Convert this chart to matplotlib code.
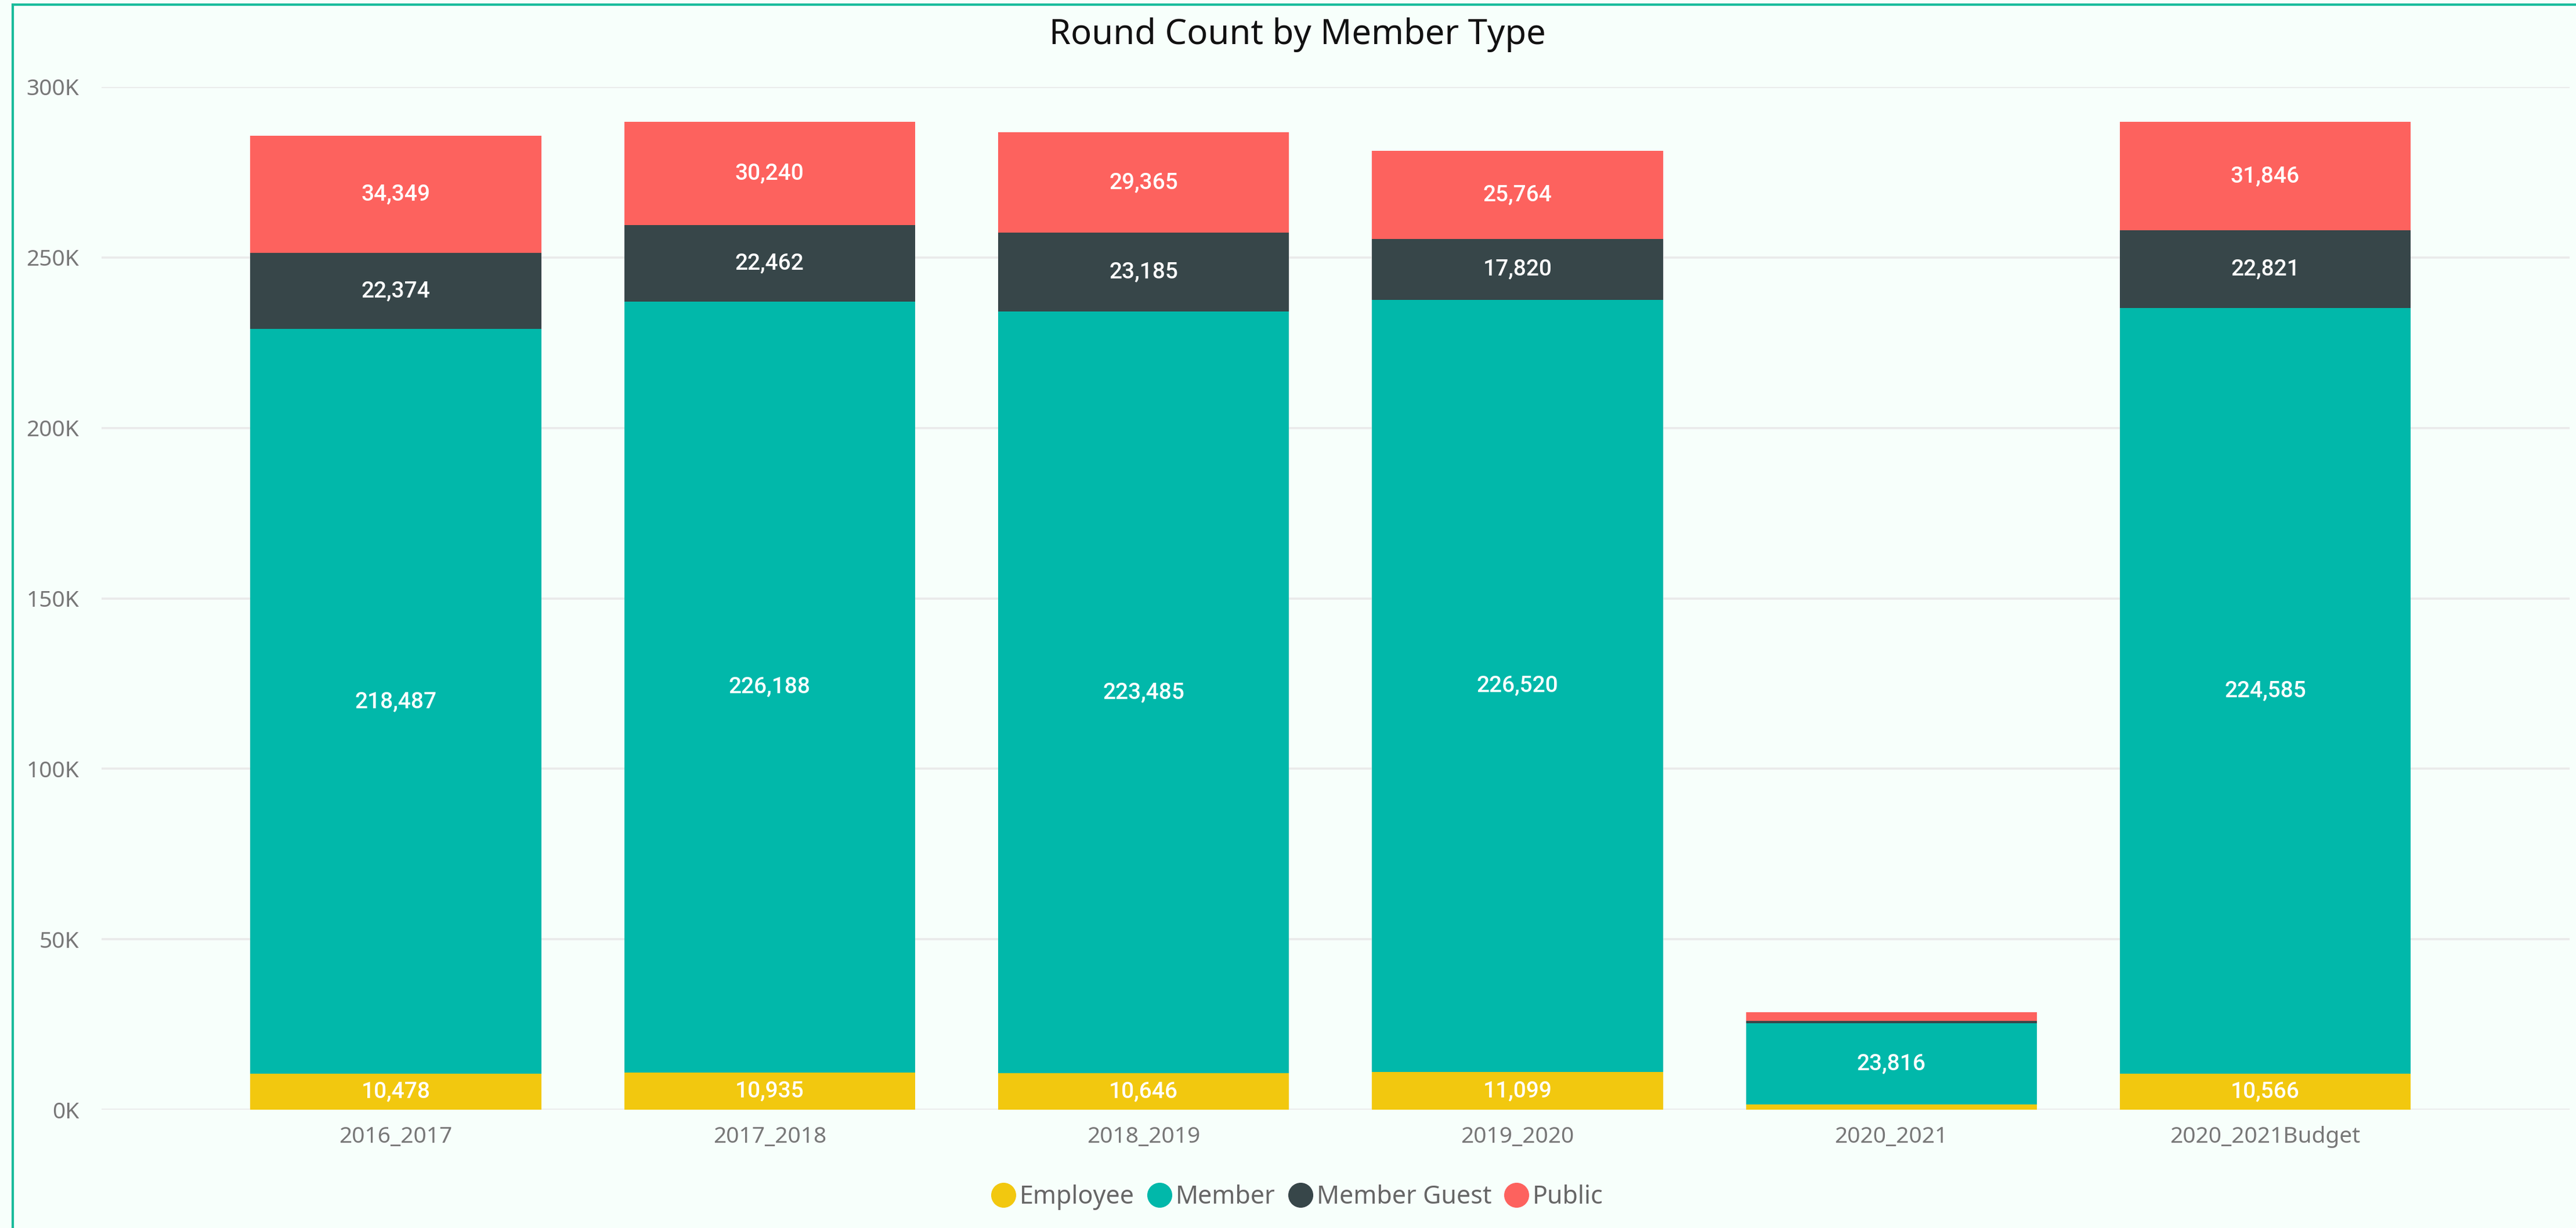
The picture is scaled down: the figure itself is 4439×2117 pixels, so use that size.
import numpy as np
import matplotlib
matplotlib.use('Agg')
from matplotlib import pyplot as plt
from matplotlib.lines import Line2D

plt.rcParams['font.family'] = ['Noto Sans', 'DejaVu Sans']

# 数据
categories = ['2016_2017', '2017_2018', '2018_2019', '2019_2020', '2020_2021', '2020_2021Budget']
employee = [10478, 10935, 10646, 11099, 1500, 10566]
member = [218487, 226188, 223485, 226520, 23816, 224585]
member_guest = [22374, 22462, 23185, 17820, 700, 22821]
public = [34349, 30240, 29365, 25764, 2600, 31846]

series_names = ['Employee', 'Member', 'Member Guest', 'Public']
series_values = [employee, member, member_guest, public]
colors = ['#F2C80F', '#01B8AA', '#374649', '#FD625E']
yticks = [0, 50000, 100000, 150000, 200000, 250000, 300000]
ytick_labels = ['0K', '50K', '100K', '150K', '200K', '250K', '300K']

bg = '#F7FFFB'
W, H = 4439, 2117
fig = plt.figure(figsize=(W / 100, H / 100), dpi=100, facecolor=bg)
ax = fig.add_axes([175 / W, 1 - 1913 / H, (4428 - 175) / W, (1913 - 150) / H])
ax.set_facecolor(bg)

x = np.arange(len(categories))
bottom = np.zeros(len(categories))
for name, vals, c in zip(series_names, series_values, colors):
    vals = np.array(vals, dtype=float)
    ax.bar(x, vals, width=0.778, bottom=bottom, color=c, label=name, zorder=3)
    # 数据标签：段太小就不显示
    for xi, v, b in zip(x, vals, bottom):
        if v >= 5000:
            ax.text(xi, b + v / 2, f'{int(v):,}', ha='center', va='center',
                    color='white', fontsize=28, fontweight='medium',
                    family=['Roboto', 'DejaVu Sans'], zorder=4)
    bottom += vals

ax.set_xlim(-0.787, 5.814)
ax.set_ylim(0, 300000)
ax.set_yticks(yticks)
ax.set_yticklabels(ytick_labels)
ax.set_xticks(x)
ax.set_xticklabels(categories)
ax.grid(axis='y', color='#EAEAEA', linewidth=2.6, zorder=0)
ax.tick_params(axis='y', length=0, pad=28, labelsize=28, labelcolor='#777777')
ax.tick_params(axis='x', length=0, pad=20, labelsize=28, labelcolor='#777777')
for s in ax.spines.values():
    s.set_visible(False)

# 标题
fig.text(2236 / W, 1 - 60 / H, 'Round Count by Member Type', ha='center', va='center',
         fontsize=43, color='#111111')

# 图例
handles = [Line2D([], [], marker='o', linestyle='none', markersize=30,
                  markerfacecolor=c, markeredgecolor=c) for c in colors]
fig.legend(handles, series_names, loc='center', bbox_to_anchor=(2236 / W, 1 - 2064 / H),
           ncol=4, frameon=False, fontsize=31, labelcolor='#666666',
           handlelength=0.9, handletextpad=0.2, columnspacing=0.55, borderpad=0)

# 外框
fig.add_artist(Line2D([22 / W, 22 / W], [0, 1 - 8 / H], color='#1ABC9C', linewidth=3, transform=fig.transFigure))
fig.add_artist(Line2D([22 / W, 1], [1 - 8 / H, 1 - 8 / H], color='#1ABC9C', linewidth=3, transform=fig.transFigure))

fig.savefig('out.png', dpi=100, facecolor=bg)
